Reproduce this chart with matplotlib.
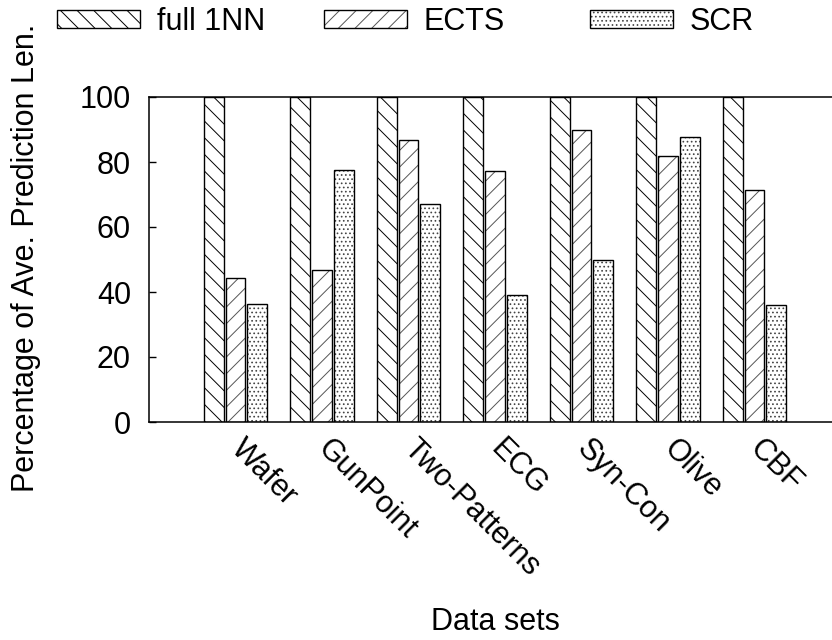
import matplotlib.pyplot as plt
import numpy as np
from matplotlib.patches import Patch

datasets = ['Wafer', 'GunPoint', 'Two-Patterns', 'ECG', 'Syn-Con', 'Olive', 'CBF']
full_1nn = [100, 100, 100, 100, 100, 100, 100]
ects = [44.3, 46.8, 86.9, 77.1, 89.9, 81.9, 71.4]
scr = [36.4, 77.4, 67.2, 39.0, 49.9, 87.7, 35.9]
series_names = ['full 1NN', 'ECTS', 'SCR']

plt.rcParams['font.family'] = ['Liberation Sans', 'DejaVu Sans']
plt.rcParams['hatch.linewidth'] = 0.7

fs = 22
fig = plt.figure(figsize=(8.32, 6.4), dpi=100)
ax = fig.add_axes([149/832, 218/640, 692/832, 325/640])

x = np.arange(len(datasets))
series = [full_1nn, ects, scr]
hatches = ['\\\\', '//', '....']
hatch_colors = ['black', '#555555', '#444444']
offsets = [-0.25, 0, 0.25]
width = 0.23

handles = []
for vals, h, hc, off in zip(series, hatches, hatch_colors, offsets):
    # hatch layer first, black outline on top
    ax.bar(x + off, vals, width, color='white', edgecolor=hc, hatch=h, linewidth=0)
    ax.bar(x + off, vals, width, color='none', edgecolor='black', linewidth=1.0)
    handles.append((Patch(facecolor='white', edgecolor=hc, hatch=h, linewidth=0),
                    Patch(facecolor='none', edgecolor='black', linewidth=1.0)))

ax.set_xlim(-1, 7)
ax.set_ylim(0, 100)
ax.set_yticks(range(0, 101, 20))
ax.tick_params(axis='y', direction='in', length=5, width=1, labelsize=fs, pad=13)
ax.set_xticks(x)
ax.set_xticklabels(datasets, rotation=-45, ha='left', va='center', rotation_mode='anchor')
ax.tick_params(axis='x', length=0, labelsize=fs, pad=16)

for s in ['top', 'bottom', 'left']:
    ax.spines[s].set_linewidth(1.1)
ax.spines['right'].set_visible(False)

ax.set_ylabel('Percentage of Ave. Prediction Len.', fontsize=fs)
ax.yaxis.set_label_coords(-0.156, 0.505)
ax.set_xlabel('Data sets', fontsize=fs)
ax.xaxis.set_label_coords(0.5, -0.57)

legend_x = [57, 324, 590]
for hnd, name, lx in zip(handles, series_names, legend_x):
    fig.legend([hnd], [name], loc='center left', bbox_to_anchor=(lx/832, 1 - 22/640),
               frameon=False, fontsize=fs, handlelength=2.7, handleheight=0.52,
               handletextpad=0.56, borderpad=0, borderaxespad=0)

fig.savefig('out.png', dpi=100)
